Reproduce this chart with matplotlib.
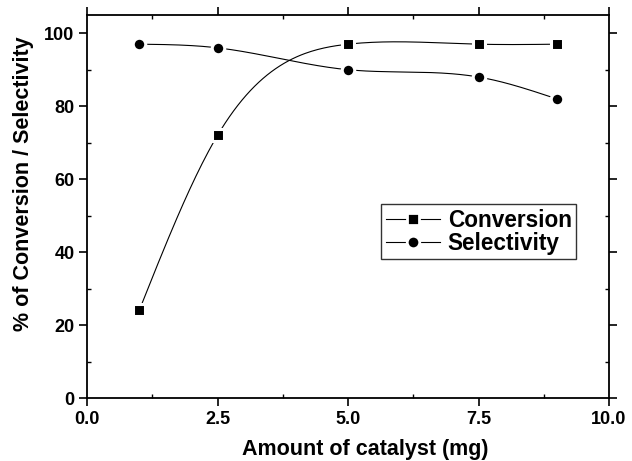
import numpy as np
import matplotlib
matplotlib.use('Agg')
import matplotlib.pyplot as plt
from matplotlib.ticker import MultipleLocator

# data
catalyst = [1.0, 2.5, 5.0, 7.5, 9.0]
conversion = [24, 72, 97, 97, 97]
selectivity = [97, 96, 90, 88, 82]


def natural_spline(x, y, n=200):
    # smooth connecting line, like the origin spline
    x = np.asarray(x, float)
    y = np.asarray(y, float)
    h = np.diff(x)
    m = len(x)
    A = np.zeros((m, m))
    b = np.zeros(m)
    A[0, 0] = A[-1, -1] = 1
    for i in range(1, m - 1):
        A[i, i - 1] = h[i - 1]
        A[i, i] = 2 * (h[i - 1] + h[i])
        A[i, i + 1] = h[i]
        b[i] = 6 * ((y[i + 1] - y[i]) / h[i] - (y[i] - y[i - 1]) / h[i - 1])
    M = np.linalg.solve(A, b)
    xs = np.linspace(x[0], x[-1], n)
    k = np.clip(np.searchsorted(x, xs) - 1, 0, m - 2)
    t0 = x[k + 1] - xs
    t1 = xs - x[k]
    hk = h[k]
    ys = (M[k] * t0**3 + M[k + 1] * t1**3) / (6 * hk) \
        + (y[k] / hk - M[k] * hk / 6) * t0 + (y[k + 1] / hk - M[k + 1] * hk / 6) * t1
    return xs, ys


plt.rcParams['font.family'] = 'Liberation Sans'
plt.rcParams['font.weight'] = 'bold'

fig = plt.figure(figsize=(6.32, 4.61), dpi=100)
ax = fig.add_axes([87 / 632, 63 / 461, 522 / 632, 383 / 461])

for ys, mk in [(conversion, 's'), (selectivity, 'o')]:
    sx, sy = natural_spline(catalyst, ys)
    ax.plot(sx, sy, color='black', lw=0.8)
    ax.plot(catalyst, ys, linestyle='none', marker=mk, ms=9 if mk == 'o' else 8.5,
            mfc='black', mec='white', mew=2.2)

# legend proxies
h1, = ax.plot([], [], color='black', lw=0.8, marker='s', ms=8.5, mfc='black', mec='white', mew=2)
h2, = ax.plot([], [], color='black', lw=0.8, marker='o', ms=9, mfc='black', mec='white', mew=2)
leg = ax.legend([h1, h2], ['Conversion', 'Selectivity'], loc='upper left',
                bbox_to_anchor=(294 / 522, 1 - 189 / 383), fontsize=16.3, frameon=True,
                fancybox=False, edgecolor='black', handlelength=2.4,
                handletextpad=0.35, borderpad=0.2, labelspacing=0.0,
                borderaxespad=0)
leg.get_frame().set_linewidth(1.0)

ax.set_xlim(0, 10)
ax.set_ylim(0, 105)
ax.xaxis.set_major_locator(MultipleLocator(2.5))
ax.xaxis.set_minor_locator(MultipleLocator(1.25))
ax.yaxis.set_major_locator(MultipleLocator(20))
ax.yaxis.set_minor_locator(MultipleLocator(10))
ax.set_xticks([0, 2.5, 5, 7.5, 10])
ax.set_xticklabels(['0.0', '2.5', '5.0', '7.5', '10.0'])

ax.tick_params(which='major', direction='out', length=6, width=1.2, labelsize=13, pad=3)
ax.tick_params(which='minor', direction='in', length=3, width=1.0)
ax.tick_params(which='both', top=True, right=True)
for s in ax.spines.values():
    s.set_linewidth(1.3)

ax.set_xlabel('Amount of catalyst (mg)', fontsize=15.5, fontweight='bold')
ax.set_ylabel('% of Conversion / Selectivity', fontsize=15.5, fontweight='bold')
ax.xaxis.set_label_coords(0.534, -41 / 383)
ax.yaxis.set_label_coords(-53 / 522, 0.559)

fig.savefig('out.png', dpi=100)
